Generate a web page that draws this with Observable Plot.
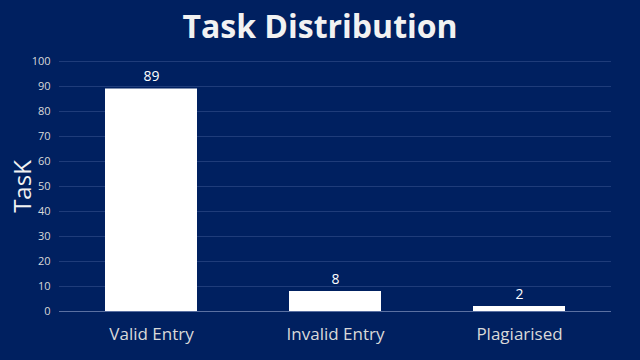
<!DOCTYPE html>
<html>
<head>
<meta charset="utf-8">
<script src="https://cdn.jsdelivr.net/npm/d3@7"></script>
<script src="https://cdn.jsdelivr.net/npm/@observablehq/plot@0.6"></script>
<style>
  html, body { margin: 0; padding: 0; background: #002060; width: 640px; height: 360px; overflow: hidden; }
  #title { height: 50px; line-height: 52px; text-align: center; color: #f2f2f2; font-family: "Open Sans", sans-serif; font-weight: 700; font-size: 32px; }
</style>
</head>
<body>
<div id="title">Task Distribution</div>
<div id="chart"></div>
<script>
const categories = ["Valid Entry", "Invalid Entry", "Plagiarised"];
const values = [89, 8, 2];
const yTicks = [0, 10, 20, 30, 40, 50, 60, 70, 80, 90, 100];
const yLabel = "TasK";

const data = categories.map((c, i) => ({category: c, value: values[i]}));

const plot = Plot.plot({
  width: 640,
  height: 310,
  marginTop: 11,
  marginBottom: 49,
  marginLeft: 59,
  marginRight: 29,
  style: {background: "#002060", fontFamily: "'Open Sans', sans-serif"},
  x: {domain: categories, paddingInner: 0.5, paddingOuter: 0.25, axis: null},
  y: {domain: [0, 100], axis: null},
  marks: [
    Plot.gridY(yTicks.filter(d => d > 0), {stroke: "#1f3c7a", strokeOpacity: 1, strokeWidth: 1}),
    Plot.ruleY([0], {stroke: "#5a70a2", strokeWidth: 1}),
    Plot.ruleX([0], {frameAnchor: "left", stroke: "#4a619a"}),
    Plot.barY(data, {x: "category", y: "value", fill: "#ffffff"}),
    Plot.text(data, {x: "category", y: "value", text: d => String(d.value), dy: -12, fill: "#ffffff", fontSize: 14}),
    Plot.axisY({ticks: yTicks, tickSize: 0, tickPadding: 9, fontSize: 11, color: "#d9d9d9", label: null}),
    Plot.axisX({tickSize: 0, tickPadding: 16, fontSize: 17, color: "#d9d9d9", label: null}),
    Plot.text([yLabel], {frameAnchor: "left", textAnchor: "middle", rotate: -90, dx: -36, fontSize: 24, fill: "#f2f2f2"})
  ]
});
document.getElementById("chart").appendChild(plot);
</script>
</body>
</html>
